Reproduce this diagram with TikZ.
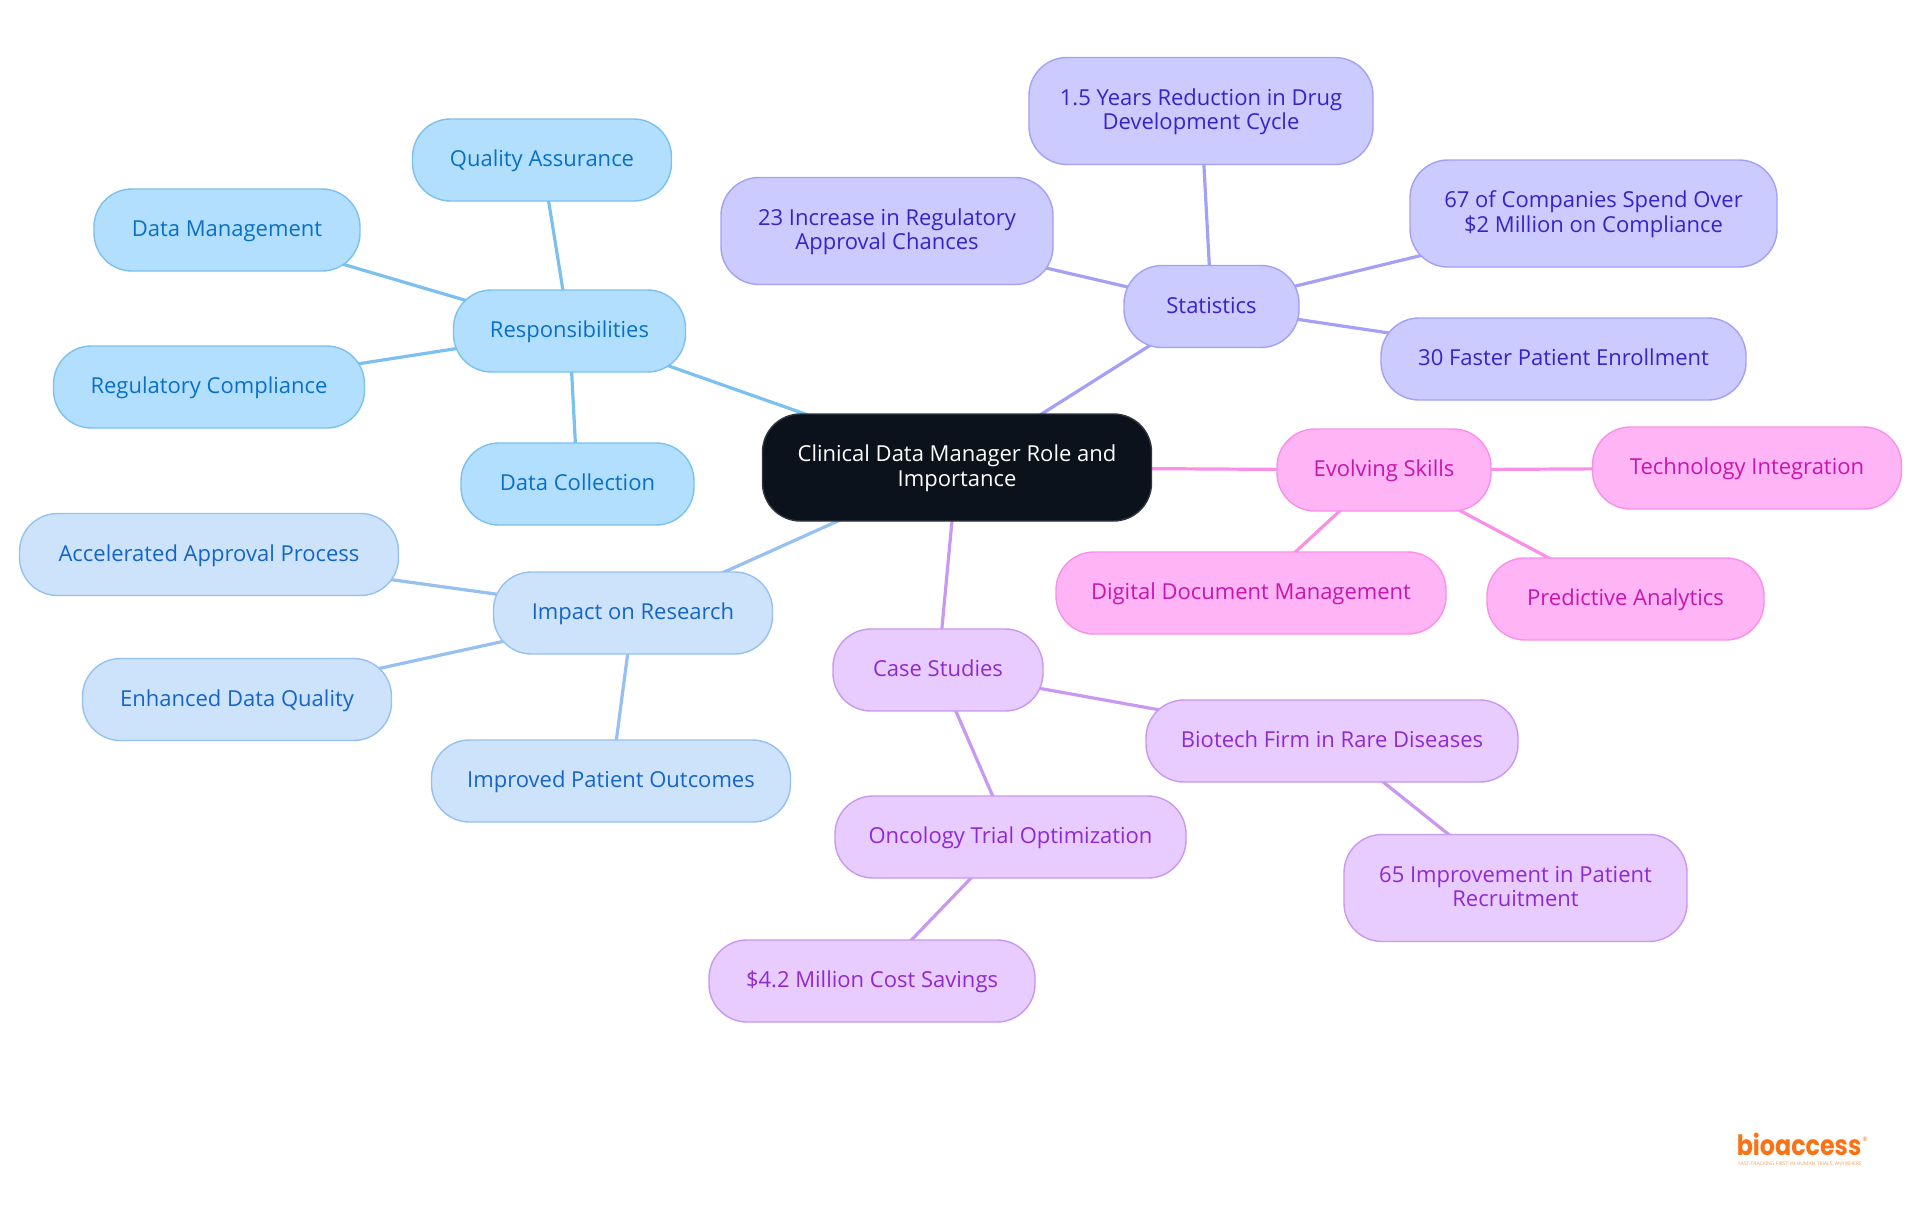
\documentclass[tikz,border=0pt]{standalone}
\usepackage{fontspec}
\setmainfont{Open Sans}
\newfontfamily\logofont{Poppins}[FakeStretch=.85]
\usetikzlibrary{backgrounds}
\definecolor{rootfill}{HTML}{0B121B}
\definecolor{respfill}{HTML}{B3DFFF}
\definecolor{respline}{HTML}{7CC0F0}
\definecolor{resptext}{HTML}{0A70C4}
\definecolor{impfill}{HTML}{CDE3FC}
\definecolor{impline}{HTML}{96C0F0}
\definecolor{imptext}{HTML}{1565C8}
\definecolor{statfill}{HTML}{CBCBFF}
\definecolor{statline}{HTML}{A3A0F5}
\definecolor{stattext}{HTML}{3A22C8}
\definecolor{evofill}{HTML}{FFB5F5}
\definecolor{evoline}{HTML}{FA8FE8}
\definecolor{evotext}{HTML}{C815AE}
\definecolor{casefill}{HTML}{E8CBFF}
\definecolor{caseline}{HTML}{C998F0}
\definecolor{casetext}{HTML}{8E2BD0}
\definecolor{logoorange}{HTML}{F97316}

\tikzset{
  box/.style={rounded corners=19pt,line width=.7pt,align=center,inner sep=0pt,
    minimum height=41pt,text height=8pt,text depth=1.5pt,font=\fontsize{11}{12.2}\selectfont},
  wd/.style={minimum width=#1*.5pt},
  tall/.style={minimum height=53.5pt,text height=20.2pt,text depth=1.5pt},
  rootbox/.style={box,tall,draw=rootfill!85!white,fill=rootfill,text=white},
  respbox/.style={box,draw=respline,fill=respfill,text=resptext},
  impbox/.style={box,draw=impline,fill=impfill,text=imptext},
  statbox/.style={box,draw=statline,fill=statfill,text=stattext},
  evobox/.style={box,draw=evoline,fill=evofill,text=evotext},
  casebox/.style={box,draw=caseline,fill=casefill,text=casetext}
}

\begin{document}
\begin{tikzpicture}
  [x=.5pt,y=-.5pt]
  \useasboundingbox (0,0) rectangle (1920,1215);

  \node[rootbox,wd=389] (root) at (957,467.5) {Clinical Data Manager Role and\\Importance};

  \node[respbox,wd=232] (resp) at (569.5,331) {Responsibilities};
  \node[respbox,wd=259] (qual) at (542,160) {Quality Assurance};
  \node[respbox,wd=266] (mgmt) at (227,230) {Data Management};
  \node[respbox,wd=311] (comp) at (209,387) {Regulatory Compliance};
  \node[respbox,wd=233] (coll) at (577.5,484) {Data Collection};

  \node[impbox,wd=279] (imp) at (633,613) {Impact on Research};
  \node[impbox,wd=379] (accel) at (209,554.5) {Accelerated Approval Process};
  \node[impbox,wd=309] (enh) at (237,699.5) {Enhanced Data Quality};
  \node[impbox,wd=359] (outc) at (611,781) {Improved Patient Outcomes};

  \node[casebox,wd=210] (case) at (938,670) {Case Studies};
  \node[casebox,wd=372] (bio) at (1332,741) {Biotech Firm in Rare Diseases};
  \node[casebox,wd=351] (onc) at (1010.5,837) {Oncology Trial Optimization};
  \node[casebox,wd=326] (cost) at (872,981) {\$4.2 Million Cost Savings};
  \node[casebox,tall,wd=343] (recr) at (1515.5,888) {65 Improvement in Patient\\Recruitment};

  \node[evobox,wd=214] (evo) at (1384,470) {Evolving Skills};
  \node[evobox,wd=309] (tech) at (1747,468) {Technology Integration};
  \node[evobox,wd=390] (doc) at (1251,593) {Digital Document Management};
  \node[evobox,wd=277] (pred) at (1625.5,599) {Predictive Analytics};

  \node[statbox,wd=175] (stat) at (1211.5,306.5) {Statistics};
  \node[statbox,tall,wd=332] (appr) at (887,231) {23 Increase in Regulatory\\Approval Chances};
  \node[statbox,tall,wd=344] (years) at (1201,111) {1.5 Years Reduction in Drug\\Development Cycle};
  \node[statbox,tall,wd=367] (spend) at (1593.5,213.5) {67 of Companies Spend Over\\\$2 Million on Compliance};
  \node[statbox,wd=365] (enrl) at (1563.5,359) {30 Faster Patient Enrollment};

  % logo
  \node[text=logoorange,inner sep=0pt,anchor=base,font=\logofont\fontsize{14}{14}\bfseries\selectfont] (logo) at (1799,1155) {bioaccess};
  \node[text=logoorange,inner sep=0pt,font=\fontsize{3}{3}\selectfont] (mark) at (1865,1139) {®};
  \node[text=logoorange!70!white,inner sep=0pt,font=\fontsize{2.5}{2.5}\selectfont] (tag) at (1800,1164) {FAST-TRACKING FIRST-IN-HUMAN TRIALS, ANYWHERE};

  \begin{pgfonlayer}{background}
    \fill[white] (0,0) rectangle (1920,1215);
    \foreach \from/\to in {root/resp,resp/qual,resp/mgmt,resp/comp,resp/coll}
      \draw[respline,line width=1.6pt] (\from.center) -- (\to.center);
    \foreach \from/\to in {root/imp,imp/accel,imp/enh,imp/outc}
      \draw[impline,line width=1.6pt] (\from.center) -- (\to.center);
    \foreach \from/\to in {root/case,case/bio,case/onc,onc/cost,bio/recr}
      \draw[caseline,line width=1.6pt] (\from.center) -- (\to.center);
    \foreach \from/\to in {root/evo,evo/tech,evo/doc,evo/pred}
      \draw[evoline,line width=1.6pt] (\from.center) -- (\to.center);
    \foreach \from/\to in {root/stat,stat/appr,stat/years,stat/spend,stat/enrl}
      \draw[statline,line width=1.6pt] (\from.center) -- (\to.center);
  \end{pgfonlayer}
\end{tikzpicture}
\end{document}
